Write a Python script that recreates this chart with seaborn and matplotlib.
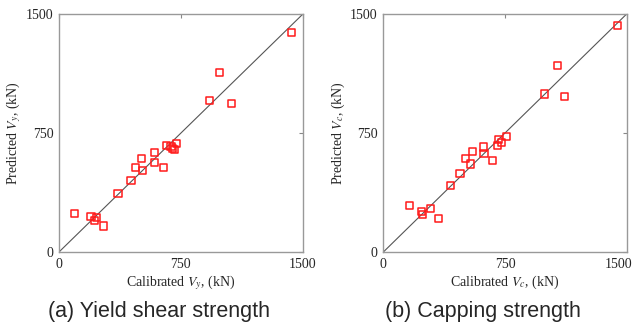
import numpy as np
import pandas as pd
import matplotlib
matplotlib.use("Agg")
import matplotlib.pyplot as plt
import matplotlib.transforms as mtrans
import seaborn as sns

# (a) yield shear strength, kN
cal_vy = [1428, 985, 925, 1061, 659, 689, 700, 710, 722, 585, 509, 585, 472, 511,
          644, 443, 363, 94, 197, 228, 218, 275]
pred_vy = [1384, 1133, 956, 935, 670, 664, 653, 649, 683, 628, 588, 567, 533, 516,
           533, 453, 371, 242, 223, 219, 196, 164]

# (b) capping strength, kN
cal_vc = [1445, 1073, 992, 1120, 762, 709, 729, 703, 618, 551, 621, 505, 672, 538,
          473, 415, 164, 238, 288, 240, 341]
pred_vc = [1429, 1174, 996, 983, 729, 708, 693, 670, 662, 634, 620, 590, 576, 555,
           494, 420, 292, 258, 273, 235, 212]

ticks = [0, 750, 1500]

sns.set_style("white")
plt.rcParams['font.family'] = ['Liberation Serif', 'DejaVu Serif']
plt.rcParams['mathtext.fontset'] = 'stix'

fig = plt.figure(figsize=(6.35, 3.25), dpi=100)
ax1 = fig.add_axes([0.0929, 0.2246, 0.384, 0.732])
ax2 = fig.add_axes([0.6037, 0.2246, 0.383, 0.732])

panels = [
    (ax1, cal_vy, pred_vy, 'y', '(a) Yield shear strength'),
    (ax2, cal_vc, pred_vc, 'c', '(b) Capping strength'),
]

for ax, xs, ys, sub, cap in panels:
    df = pd.DataFrame({'cal': xs, 'pred': ys})
    ax.plot([0, 1500], [0, 1500], color='#555555', lw=0.8, zorder=1)
    sns.scatterplot(data=df, x='cal', y='pred', ax=ax, marker='s', s=26,
                    facecolor='none', edgecolor='#ff1a1a', linewidth=1.1, zorder=2)
    ax.set_xlim(0, 1500)
    ax.set_ylim(0, 1500)
    ax.set_xticks(ticks)
    ax.set_yticks(ticks)
    ax.tick_params(direction='in', length=3, width=0.8, color='#888888',
                   top=True, right=True, labelsize=10, pad=4)
    for sp in ax.spines.values():
        sp.set_color('#999999')
        sp.set_linewidth(1.0)
    ax.set_xlabel('Calibrated $V_%s$, (kN)' % sub, fontsize=10, labelpad=2)
    ax.set_ylabel('Predicted $V_%s$, (kN)' % sub, fontsize=10, labelpad=2)
    ax.text(0.41, -0.205, cap, transform=ax.transAxes, ha='center', va='top',
            fontsize=15.5, family=['Liberation Sans', 'DejaVu Sans'])

# last x tick label on the right panel sits against the figure edge
lbl = ax2.get_xticklabels()[-1]
lbl.set_transform(lbl.get_transform() + mtrans.ScaledTranslation(-6 / 72, 0, fig.dpi_scale_trans))

fig.savefig('out.png', dpi=100)
